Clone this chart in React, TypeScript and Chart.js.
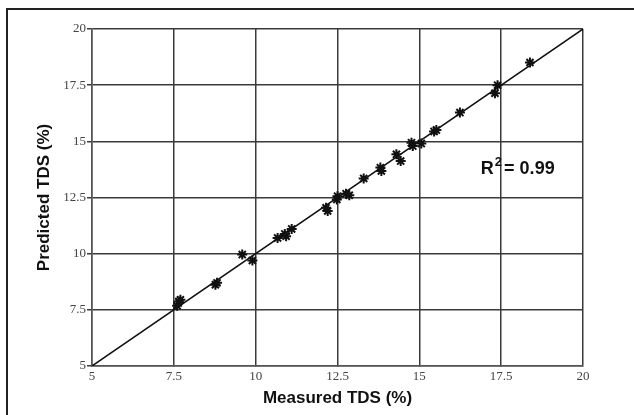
import React, { useEffect, useRef } from "react";
import { Chart, registerables } from "chart.js";

Chart.register(...registerables);

const measured = [
  7.6, 7.65, 7.7, 8.77, 8.82, 9.59, 9.9,
  10.67, 10.89, 10.93, 11.1, 12.15, 12.2, 12.48, 12.5, 12.76, 12.86,
  13.3, 13.81, 13.84, 14.3, 14.43, 14.76, 14.8, 15.06,
  15.45, 15.52, 16.24, 17.31, 17.39, 18.38,
];
const predicted = [
  7.68, 7.87, 7.95, 8.62, 8.7, 9.96, 9.7,
  10.7, 10.88, 10.78, 11.1, 12.04, 11.9, 12.41, 12.56, 12.67, 12.6,
  13.35, 13.83, 13.68, 14.42, 14.12, 14.94, 14.79, 14.9,
  15.44, 15.5, 16.28, 17.14, 17.5, 18.51,
];
const fitX = [5, 20];
const fitY = [5, 20];
const axisMin = 5;
const axisMax = 20;
const axisStep = 2.5;
const xTitle = "Measured TDS (%)";
const yTitle = "Predicted TDS (%)";
const r2Label = "R";
const r2Sup = "2";
const r2Value = "= 0.99";
const r2AnchorX = 16.88;
const r2AnchorY = 13.78;

const r2Plugin = {
  id: "r2Label",
  afterDatasetsDraw(chart: any) {
    const { ctx, scales } = chart;
    const x = scales.x.getPixelForValue(r2AnchorX);
    const y = scales.y.getPixelForValue(r2AnchorY);
    ctx.save();
    ctx.fillStyle = "#111";
    ctx.textBaseline = "middle";
    ctx.textAlign = "left";
    ctx.font = "bold 18px 'Liberation Sans', Arial, sans-serif";
    ctx.fillText(r2Label, x, y);
    const w1 = ctx.measureText(r2Label).width;
    ctx.font = "bold 13px 'Liberation Sans', Arial, sans-serif";
    ctx.fillText(r2Sup, x + w1 + 1, y - 6);
    const w2 = ctx.measureText(r2Sup).width;
    ctx.font = "bold 18px 'Liberation Sans', Arial, sans-serif";
    ctx.fillText(r2Value, x + w1 + w2 + 3, y);
    ctx.restore();
  },
};

export default function App() {
  const ref = useRef<HTMLCanvasElement | null>(null);
  useEffect(() => {
    if (!ref.current) return;
    const points = measured.map((m, i) => ({ x: m, y: predicted[i] }));
    const fit = fitX.map((v, i) => ({ x: v, y: fitY[i] }));
    const tickFont = { family: "'Liberation Serif', 'Times New Roman', serif", size: 13 };
    const titleFont = { family: "'Liberation Sans', Arial, sans-serif", size: 17, weight: "bold" as const };
    const chart = new Chart(ref.current, {
      type: "scatter",
      data: {
        datasets: [
          {
            type: "line",
            data: fit,
            borderColor: "#111",
            borderWidth: 1.5,
            pointRadius: 0,
            fill: false,
          } as any,
          {
            data: points,
            pointStyle: "star",
            pointRadius: 5,
            borderColor: "#111",
            backgroundColor: "#111",
            pointBorderWidth: 2,
          } as any,
        ],
      },
      options: {
        responsive: false,
        animation: false,
        layout: { padding: { left: 30, top: 29, right: 51, bottom: 6 } },
        plugins: { legend: { display: false }, tooltip: { enabled: false } },
        scales: {
          x: {
            type: "linear",
            min: axisMin,
            max: axisMax,
            ticks: { stepSize: axisStep, font: tickFont, color: "#444", padding: 3, maxRotation: 0 },
            grid: { color: "#3a3a3a", lineWidth: 1.5, tickLength: 0 },
            border: { color: "#555", width: 1.5 },
            title: { display: true, text: xTitle, font: titleFont, color: "#111", padding: 0 },
            afterFit: (s: any) => { s.height = 43; },
          },
          y: {
            type: "linear",
            min: axisMin,
            max: axisMax,
            ticks: { stepSize: axisStep, font: tickFont, color: "#444", padding: 1 },
            grid: { color: "#3a3a3a", lineWidth: 1.5, tickLength: 5 },
            border: { color: "#555", width: 1.5 },
            title: { display: true, text: yTitle, font: titleFont, color: "#111", padding: 4 },
            afterFit: (s: any) => { s.width = 62; },
          },
        },
      },
      plugins: [r2Plugin],
    });
    return () => chart.destroy();
  }, []);
  return (
    <div style={{ position: "fixed", left: 0, top: 0, width: 634, height: 415, background: "#fff", overflow: "hidden" }}>
      <div style={{ position: "absolute", left: 6, top: 8, width: 640, height: 420, borderTop: "2px solid #222", borderLeft: "2px solid #222" }} />
      <canvas ref={ref} width={634} height={415} style={{ position: "absolute", left: 0, top: 0 }} />
    </div>
  );
}
